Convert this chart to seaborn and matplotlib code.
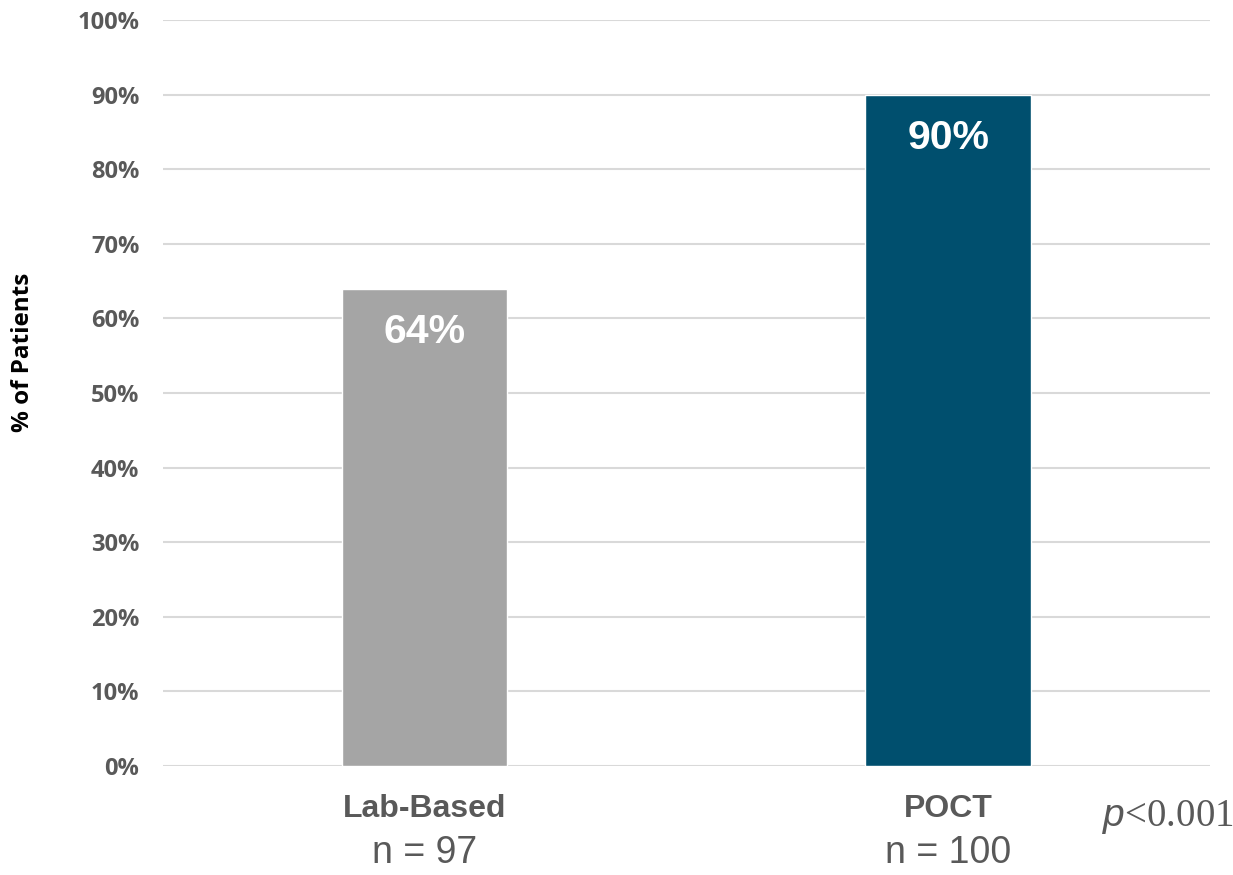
import matplotlib
matplotlib.use("Agg")
import matplotlib.pyplot as plt
import seaborn as sns
import pandas as pd

# Share of patients per testing approach
groups = ["Lab-Based", "POCT"]
percent = [64, 90]
sample_sizes = [97, 100]
bar_colors = ["#A5A5A5", "#004F6E"]
y_ticks = [0, 10, 20, 30, 40, 50, 60, 70, 80, 90, 100]

df = pd.DataFrame({"group": groups, "percent": percent})

sns.set_theme(style="white")
plt.rcParams["mathtext.fontset"] = "custom"
plt.rcParams["mathtext.it"] = "Liberation Sans:italic"
plt.rcParams["mathtext.rm"] = "Liberation Serif"

fig = plt.figure(figsize=(12.33, 8.75), dpi=100)
ax = fig.add_axes([0.1322, 0.1246, 0.8491, 0.8525])

sns.barplot(data=df, x="group", y="percent", hue="group", palette=bar_colors,
            width=0.316, legend=False, ax=ax, saturation=1, zorder=3)

ax.set_xlim(-0.5, 1.5)
ax.set_ylim(0, 100)
ax.set_yticks(y_ticks)
ax.set_yticklabels([f"{v}%" for v in y_ticks], fontfamily="Open Sans",
                   fontweight="bold", fontsize=17, color="#595959")
ax.grid(axis="y", color="#D9D9D9", linewidth=1.5, zorder=0)
for s in ax.spines.values():
    s.set_visible(False)
ax.tick_params(axis="y", length=0, pad=17)
ax.tick_params(axis="x", length=0, pad=20)
ax.set_xticks(range(len(groups)))
ax.set_xticklabels(groups, fontfamily="Liberation Sans", fontweight="bold",
                   fontsize=23, color="#595959")
ax.set_xlabel("")
ax.set_ylabel("% of Patients", fontfamily="Open Sans", fontweight="bold",
              fontsize=17.5, color="#000000")
ax.yaxis.set_label_coords(-0.122, 0.555)

# Value labels inside the bars
for i, v in enumerate(percent):
    ax.annotate(f"{v}%", (i, v), xytext=(0, -43), textcoords="offset pixels",
                ha="center", va="center", color="white", fontweight="bold",
                fontfamily="Liberation Sans", fontsize=29.5)

# Sample sizes beneath the category names
for i, n in enumerate(sample_sizes):
    ax.annotate(f"n = {n}", (i, 0), xytext=(0, -87), textcoords="offset pixels",
                ha="center", va="center", color="#595959",
                fontfamily="Liberation Sans", fontsize=27, annotation_clip=False)

fig.text(0.947, 0.066, r"$\it{p}$<0.001", ha="center", va="center",
         color="#595959", fontfamily="Liberation Serif", fontsize=28)

fig.savefig("out.png", dpi=100, facecolor="white")
